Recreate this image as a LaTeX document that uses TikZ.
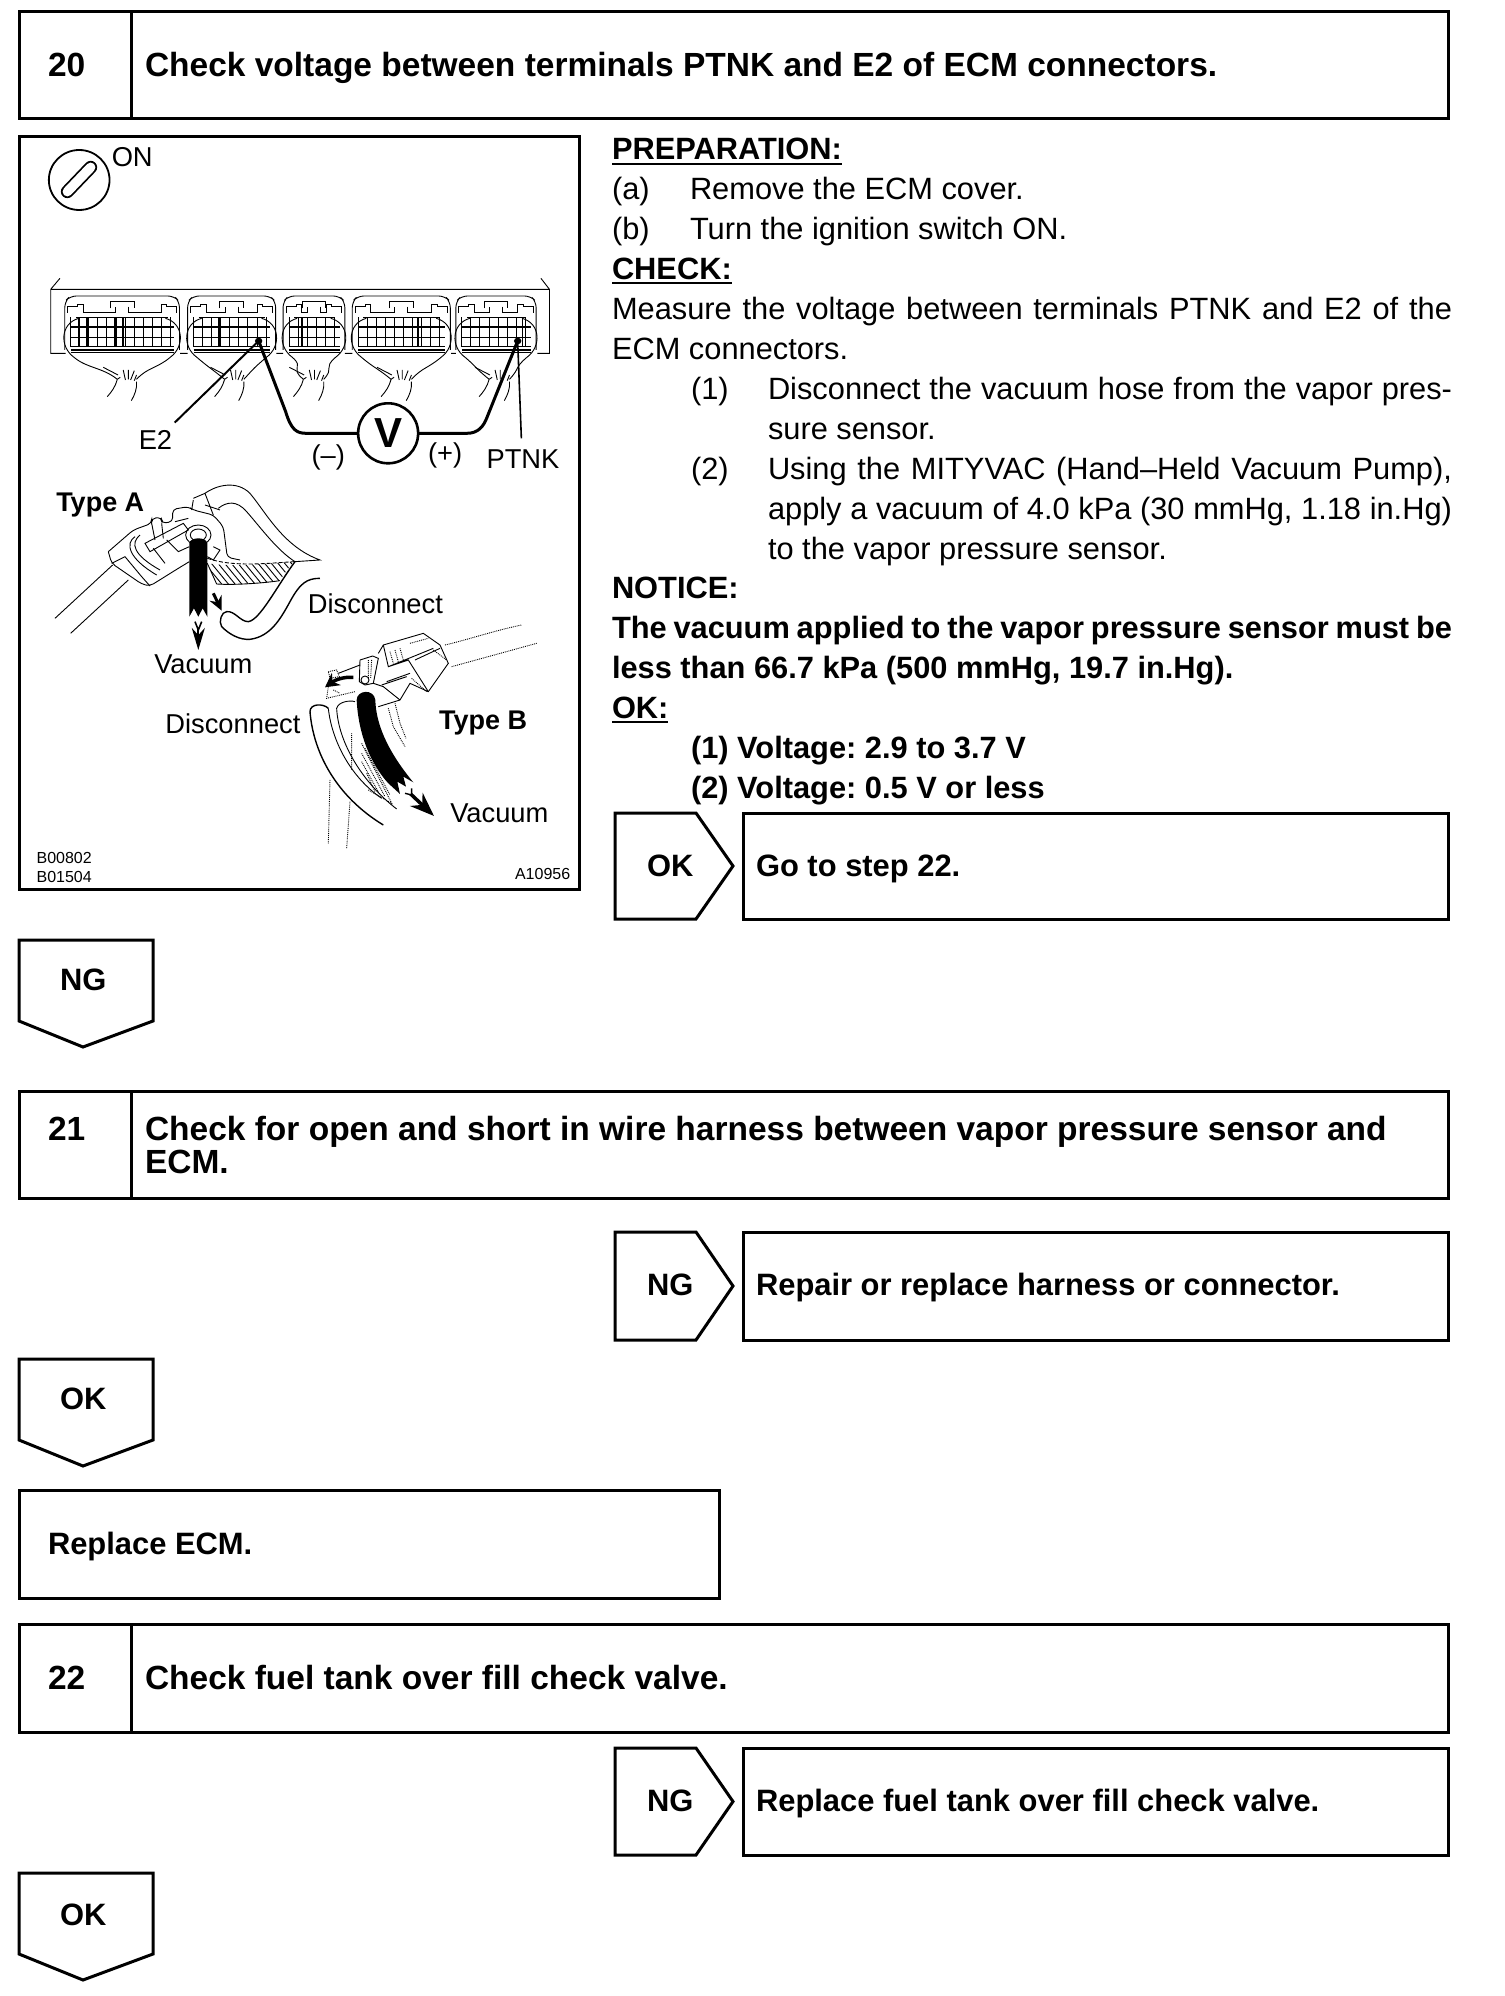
\documentclass[tikz,border=0pt]{standalone}
\usepackage{fontspec}
\setmainfont{Liberation Sans}
\usetikzlibrary{arrows.meta}
\frenchspacing
\tikzset{
  lbl/.style={anchor=base west,inner sep=0pt,outer sep=0pt},
  bodytxt/.style={lbl,font=\fontsize{30.8}{32}\selectfont},
  boldtxt/.style={lbl,font=\fontsize{30.8}{32}\selectfont\bfseries},
  headtxt/.style={lbl,font=\fontsize{30.9}{32}\selectfont\bfseries},
  titletxt/.style={lbl,font=\fontsize{33.5}{35}\selectfont\bfseries},
  figtxt/.style={lbl,font=\fontsize{27.3}{29}\selectfont},
  figbold/.style={lbl,font=\fontsize{27}{29}\selectfont\bfseries},
  codetxt/.style={lbl,font=\fontsize{16}{18}\selectfont},
  framebox/.style={draw,line width=3pt,anchor=north west,inner sep=0pt,outer sep=0pt},
  tagline/.style={line width=3pt,line join=miter},
  thin1/.style={line width=0.9pt},
  ulin/.style={line width=2.6pt},
}
\newcommand{\txt}[5]{\node[#4] (#1) at (#2,#3) {#5};}
\newcommand{\bx}[5]{\node[framebox,minimum width=#4pt,minimum height=#5pt] (#1) at (#2,#3) {};}
\newcommand{\just}[2]{\makebox[#1pt][s]{#2}}
\newcommand{\rtag}[2]{\draw[tagline] (615,#1) -- (696,#1) -- (733,{(#1+#2)/2}) -- (696,#2) -- (615,#2) -- cycle;}
\newcommand{\dtag}[1]{\draw[tagline] (19,#1) -- (153,#1) -- (153,{#1+81}) -- (83,{#1+107}) -- (19,{#1+81}) -- cycle;}
% x0, x1, bundle left, bundle right, thick columns
\newcommand{\ecmplug}[5]{%
  \pgfmathsetmacro\xm{(#1+#2)/2}%
  \pgfmathsetmacro\ga{#1+16}%
  \pgfmathsetmacro\gb{#1+40.5}%
  \pgfmathsetmacro\gc{#2-14}%
  \draw[thin1,rounded corners=6pt] (#1,660) -- (#1,515) -- ({#1+15},498) -- ({#2-15},498) -- (#2,515) -- (#2,660);
  \draw[thin1] ({#1+8},548) -- ({#1+8},528) -- ({#1+35},528) -- ({#1+35},522) -- ({#1+50},522) -- ({#1+50},548) -- ({\xm-18},548) -- ({\xm-18},530)
     ({\xm-32},535) -- ({\xm-32},514) -- ({\xm+32},514) -- ({\xm+32},535)
     ({\xm+18},530) -- ({\xm+18},548) -- ({#2-50},548) -- ({#2-50},522) -- ({#2-35},522) -- ({#2-35},528) -- ({#2-8},528) -- ({#2-8},548);
  \foreach \gx in {\ga,\gb,...,\gc} \draw[thin1] (\gx,562) -- (\gx,650);
  \foreach \gx in {#5} \draw[line width=1.8pt] (\gx,562) -- (\gx,650);
  \draw[thin1] ({#1+30},562) -- ({#2-30},562) (\ga,622) -- (\gc,622) (\ga,650) -- (\gc,650);
  \draw[line width=1.8pt] (\ga,590) -- (\gc,590) (\ga,661) -- (\gc,661);
  \draw[line width=1.4pt] (\ga,668) -- (\gc,668);
  \draw[thin1] ({#1+38},565) .. controls ({#1-12},580) and ({#1-15},650) .. ({#1+25},682) .. controls ({#1+60},715) and ({#3-40},712) .. (#3,748);
  \draw[thin1] ({#2-38},565) .. controls ({#2+12},580) and ({#2+15},650) .. ({#2-25},682) .. controls ({#2-60},715) and ({#4+30},712) .. (#4,748);
  \draw[thin1] (#3,748) .. controls ({#3-5},770) and ({#3-15},785) .. ({#3-27},800);
  \draw[thin1] (#4,755) .. controls ({#4+2},775) and ({#4-5},795) .. ({#4-14},812);
  \draw[thin1] (#3,748) -- ({#3+8},742) ({#3-38},712) -- ({#3+2},735)
     ({#3+16},720) -- ({#3+22},750) ({#3+30},720) -- ({#3+30},748) ({#3+46},722) -- ({#3+36},750) (#4,735) -- ({#4-6},752);
}
\begin{document}
\begin{tikzpicture}[x=1pt,y=-1pt]
\useasboundingbox (0,0) rectangle (1504,1996);
\fill[white] (0,0) rectangle (1504,1996);

% ---- frames
\bx{b20}{19}{12}{1429}{107}
\draw[line width=3pt] (131,12) -- (131,119);
\txt{n20}{48}{77}{titletxt}{20}
\txt{t20}{145}{77}{titletxt}{Check voltage between terminals PTNK and E2 of ECM connectors.}

\bx{fig}{19}{137}{560}{752}

% ---- right column text
\txt{l0}{612}{160}{boldtxt}{PREPARATION:}
\draw[ulin] ([yshift=-4pt]l0.base west) -- ([yshift=-4pt]l0.base east);
\txt{l1a}{612}{200}{bodytxt}{(a)}
\txt{l1b}{690}{200}{bodytxt}{Remove the ECM cover.}
\txt{l2a}{612}{240}{bodytxt}{(b)}
\txt{l2b}{690}{240}{bodytxt}{Turn the ignition switch ON.}
\txt{l3}{612}{279}{boldtxt}{CHECK:}
\draw[ulin] ([yshift=-4pt]l3.base west) -- ([yshift=-4pt]l3.base east);
\txt{l4}{612}{319}{bodytxt}{\just{840}{Measure the voltage between terminals PTNK and E2 of the}}
\txt{l5}{612}{359}{bodytxt}{ECM connectors.}
\txt{l6a}{691}{399}{bodytxt}{(1)}
\txt{l6b}{768}{399}{bodytxt}{\just{684}{Disconnect the vacuum hose from the vapor pres-}}
\txt{l7}{768}{439}{bodytxt}{sure sensor.}
\txt{l8a}{691}{479}{bodytxt}{(2)}
\txt{l8b}{768}{479}{bodytxt}{\just{684}{Using the MITYVAC (Hand–Held Vacuum Pump),}}
\txt{l9}{768}{519}{bodytxt}{\just{684}{apply a vacuum of 4.0 kPa (30 mmHg, 1.18 in.Hg)}}
\txt{l10}{768}{559}{bodytxt}{to the vapor pressure sensor.}
\txt{l11}{612}{598}{boldtxt}{NOTICE:}
\txt{l12}{612}{638}{boldtxt}{\just{840}{The vacuum applied to the vapor pressure sensor must be}}
\txt{l13}{612}{678}{boldtxt}{less than 66.7 kPa (500 mmHg, 19.7 in.Hg).}
\txt{l14}{612}{718}{boldtxt}{OK:}
\draw[ulin] ([yshift=-4pt]l14.base west) -- ([yshift=-4pt]l14.base east);
\txt{l15}{691}{758}{boldtxt}{(1) Voltage: 2.9 to 3.7 V}
\txt{l16}{691}{798}{boldtxt}{(2) Voltage: 0.5 V or less}

% ---- tags and result boxes
\rtag{813}{919}
\txt{tok1}{647}{876}{headtxt}{OK}
\bx{r1}{743}{813}{705}{106}
\txt{tr1}{756}{876}{headtxt}{Go to step 22.}

\dtag{940}
\txt{tng1}{60}{990}{headtxt}{NG}

\bx{b21}{19}{1091}{1429}{107}
\draw[line width=3pt] (131,1091) -- (131,1198);
\txt{n21}{48}{1140}{titletxt}{21}
\txt{t21a}{145}{1140}{titletxt}{Check for open and short in wire harness between vapor pressure sensor and}
\txt{t21b}{145}{1173}{titletxt}{ECM.}

\rtag{1232}{1340}
\txt{tng2}{647}{1295}{headtxt}{NG}
\bx{r2}{743}{1232}{705}{108}
\txt{tr2}{756}{1295}{headtxt}{Repair or replace harness or connector.}

\dtag{1359}
\txt{tok2}{60}{1409}{headtxt}{OK}

\bx{b3}{19}{1490}{700}{108}
\txt{t3}{48}{1554}{headtxt}{Replace ECM.}

\bx{b22}{19}{1624}{1429}{108}
\draw[line width=3pt] (131,1624) -- (131,1732);
\txt{n22}{48}{1689}{titletxt}{22}
\txt{t22}{145}{1689}{titletxt}{Check fuel tank over fill check valve.}

\rtag{1748}{1855}
\txt{tng3}{647}{1811}{headtxt}{NG}
\bx{r3}{743}{1748}{705}{107}
\txt{tr3}{756}{1811}{headtxt}{Replace fuel tank over fill check valve.}

\dtag{1873}
\txt{tok3}{60}{1925}{headtxt}{OK}

% ---- ECM and meter (crop 1 coordinates: 2.703 across, 3 down)
\begin{scope}[shift={(10,130)},xscale=0.37,yscale=0.3333]
  \draw[line width=1.8pt] (187,150) ellipse[x radius=82,y radius=90];
  \draw[line width=13pt,line cap=round] (155,185) -- (218,112);
  \draw[white,line width=9.5pt,line cap=round] (155,185) -- (218,112);
  \node[figtxt] (on) at (275,110) {ON};
  \draw[thin1] (135,445) -- (110,478) -- (110,670) -- (150,670)
     (460,670) -- (480,670) (720,670) -- (738,670) (905,670) -- (925,670) (1192,670) -- (1205,670) (1425,670) -- (1458,670) -- (1458,478) -- (1435,445)
     (110,478) -- (1458,478);
  \ecmplug{148}{458}{290}{342}{185,208,283,305}
  \ecmplug{480}{718}{580}{632}{565}
  \ecmplug{738}{905}{793}{848}{790}
  \ecmplug{925}{1190}{1030}{1085}{1103}
  \ecmplug{1205}{1422}{1295}{1350}{1385}
  \node[circle,draw,line width=2.6pt,minimum size=60pt,inner sep=0pt,outer sep=0pt,font=\fontsize{42}{44}\selectfont\bfseries] (vm) at (1022,910) {V};
  \coordinate (e2t) at (672,633);
  \coordinate (pt) at (1372,633);
  \coordinate (e2lead) at (445,878);
  \coordinate (ptlead) at (1382,925);
  \fill (e2t) circle[radius=10];
  \fill (pt) circle[radius=10];
  \draw[line width=2pt] (e2lead) -- (e2t);
  \draw[line width=1.6pt] (ptlead) -- (pt);
  \draw[line width=3pt] (e2t) -- (745,845) .. controls (760,900) and (775,910) .. (800,910) -- (vm.west);
  \draw[line width=3pt] (vm.east) -- (1235,910) .. controls (1265,910) and (1280,890) .. (1290,860) -- (pt);
  \node[figtxt] (e2) at (348,958) {E2};
  \node[figtxt] (minus) at (815,1003) {(–)};
  \node[figtxt] (plus) at (1130,997) {(+)};
  \node[figtxt] (ptnk) at (1288,1015) {PTNK};
\end{scope}

% ---- labels (crop 2 coordinates: 2.703 across, 3 down)
\begin{scope}[shift={(10,470)},xscale=0.37,yscale=0.3333]
  \node[figbold] (ta) at (125,125) {Type A};
  \node[figtxt] (d1) at (805,432) {Disconnect};
  \node[figtxt] (v1) at (390,612) {Vacuum};
  \node[figtxt] (d2) at (420,792) {Disconnect};
  \node[figbold] (tb) at (1160,780) {Type B};
  \node[figtxt] (v2) at (1190,1058) {Vacuum};
  \node[codetxt] (c1) at (72,1180) {B00802};
  \node[codetxt] (c2) at (72,1238) {B01504};
  \node[codetxt] (c3) at (1365,1228) {A10956};
\end{scope}

% ---- Type A (coordinates of crop 5)
\begin{scope}[shift={(50,480)},scale=0.3333]
  \begin{scope}
    \clip (472,250) .. controls (550,262) and (650,250) .. (732,245) .. controls (710,270) and (700,285) .. (690,302) .. controls (620,312) and (540,315) .. (500,312) -- cycle;
    \foreach \hx in {440,460,...,720} \draw[thin1] (\hx,245) -- ({\hx+60},318);
  \end{scope}
  \draw[thin1,dash pattern=on 4pt off 2pt] (472,235) .. controls (550,262) and (650,250) .. (732,245);
  \draw[thin1] (472,250) -- (500,312) .. controls (540,315) and (620,312) .. (690,302);
  \draw[thin1] (465,40) .. controls (500,15) and (560,0) .. (600,40) .. controls (650,100) and (700,200) .. (810,240) -- (735,245);
  \draw[thin1] (505,85) .. controls (530,65) and (560,60) .. (590,95) .. controls (630,140) and (680,210) .. (735,245);
  \draw[line width=1.4pt] (810,295) .. controls (770,295) and (750,310) .. (720,365) .. controls (690,420) and (660,470) .. (600,478) .. controls (570,480) and (540,465) .. (515,440) .. controls (505,425) and (515,395) .. (530,395) .. controls (555,392) and (570,425) .. (595,425) .. controls (630,420) and (680,320) .. (735,245);
  % connector
  \draw[thin1,rounded corners=4pt] (175,215) -- (250,150) -- (305,130) -- (305,115) -- (335,112) -- (335,130) -- (368,125) -- (368,88) -- (415,80) -- (430,90) -- (490,105) -- (520,140) -- (532,232) -- (570,240);
  \draw[thin1,rounded corners=4pt] (175,215) -- (185,250) -- (275,312) -- (300,318) -- (385,265) -- (418,245);
  \draw[thin1] (185,250) -- (225,230) -- (275,290) -- (300,318);
  \draw[thin1] (270,165) .. controls (240,190) and (250,225) .. (330,270) (255,170) .. controls (225,190) and (235,235) .. (320,285);
  \draw[thin1] (285,190) -- (400,130) -- (415,150) -- (300,215) -- cycle (310,205) -- (345,250) (350,180) -- (385,215) -- (418,200);
  \draw[thin1] (305,130) -- (315,180) (335,130) -- (340,175) (375,125) -- (415,115);
  \draw[thin1] (430,60) -- (425,90) (430,55) -- (465,40) -- (490,105) (465,75) -- (510,90);
  \draw[thin1] (445,165) ellipse[x radius=38,y radius=30];
  \draw[thin1] (445,165) ellipse[x radius=24,y radius=18];
  \draw[thin1] (490,200) -- (510,210) -- (490,240) -- (472,230);
  % hoses to left
  \draw[thin1] (15,415) -- (188,255) (62,460) -- (235,300);
  % black hose
  \fill (418,190) .. controls (420,170) and (470,170) .. (472,190) -- (472,410) -- (458,385) -- (445,410) -- (432,385) -- (418,410) -- cycle;
  % arrows
  \draw[line width=1.6pt] (435,425) -- (445,450) -- (455,425);
  \draw[line width=2.2pt,-{Stealth[length=22pt,width=13pt]}] (445,445) -- (445,510);
  \draw[line width=3pt,-{Stealth[length=14pt,width=13pt]}] (490,340) -- (515,392);
\end{scope}

% ---- Type B (coordinates of crop 6)
\begin{scope}[shift={(300,620)},scale=0.3333]
  \draw[thin1,densely dotted] (435,75) .. controls (500,60) and (590,30) .. (665,15);
  \draw[thin1,densely dotted] (455,140) -- (710,70);
  % connector
  \draw[thin1] (235,100) -- (250,75) -- (370,40) -- (420,75) -- (445,130) -- (385,215) -- (330,190) -- (300,240) -- (235,260);
  \draw[thin1] (250,75) -- (265,140) -- (400,85) (265,140) -- (325,120) -- (385,215);
  \draw[thin1,densely dotted] (270,95) -- (280,130) (285,90) -- (295,125) (300,85) -- (310,120) (330,70) -- (385,55) (400,90) -- (440,120) (335,175) -- (380,215);
  \draw[thin1] (260,185) -- (330,160) (245,195) -- (320,170) (345,120) -- (420,85);
  \draw[thin1] (180,120) -- (218,108) -- (235,115) -- (220,190) -- (250,200) -- (300,240) (180,120) -- (178,185) -- (195,195) -- (220,190);
  \draw[thin1,densely dotted] (205,120) -- (205,175) (215,120) -- (212,175);
  \draw[thin1] (195,180) circle[radius=12];
  \draw[thin1] (115,160) -- (180,135);
  \draw[thin1,densely dotted] (85,155) -- (110,150) -- (118,170) -- (90,175) -- cycle (85,200) -- (80,235) -- (165,215) (100,210) -- (120,220);
  % disconnected hoses
  \draw[line width=1.4pt] (85,265) .. controls (70,250) and (30,250) .. (30,275) .. controls (40,400) and (110,530) .. (250,615);
  \draw[thin1] (85,265) .. controls (95,360) and (150,470) .. (245,535);
  \draw[thin1] (165,245) .. controls (150,240) and (115,245) .. (110,265) .. controls (115,370) and (190,490) .. (290,567);
  \draw[thin1,densely dotted] (90,480) -- (85,670) (150,545) -- (140,685) (155,340) -- (155,450);
  % hatch
  \draw[thin1,densely dotted] (185,370) -- (275,550) -- (205,510)
     (195,385) -- (270,525) (185,400) -- (255,530) (185,425) -- (240,525) (200,460) -- (225,515);
  \draw[thin1,densely dotted] (265,265) -- (280,320) -- (315,380) (285,250) -- (300,310) -- (318,355);
  % black hose
  \fill (170,240) .. controls (170,210) and (222,205) .. (226,240) .. controls (228,310) and (260,390) .. (340,487) -- (310,470) -- (318,500) -- (292,485) -- (300,522) -- (265,490) .. controls (210,430) and (175,340) .. (170,240) -- cycle;
  % arrows
  \draw[line width=1.4pt] (315,520) -- (335,525) -- (335,505);
  \draw[line width=3.5pt,-{Stealth[length=24pt,width=18pt]}] (332,522) -- (402,588);
  \draw[line width=3.5pt,-{Stealth[length=14pt,width=15pt]}] (160,172) .. controls (130,170) and (105,180) .. (75,202);
\end{scope}
\end{tikzpicture}
\end{document}
